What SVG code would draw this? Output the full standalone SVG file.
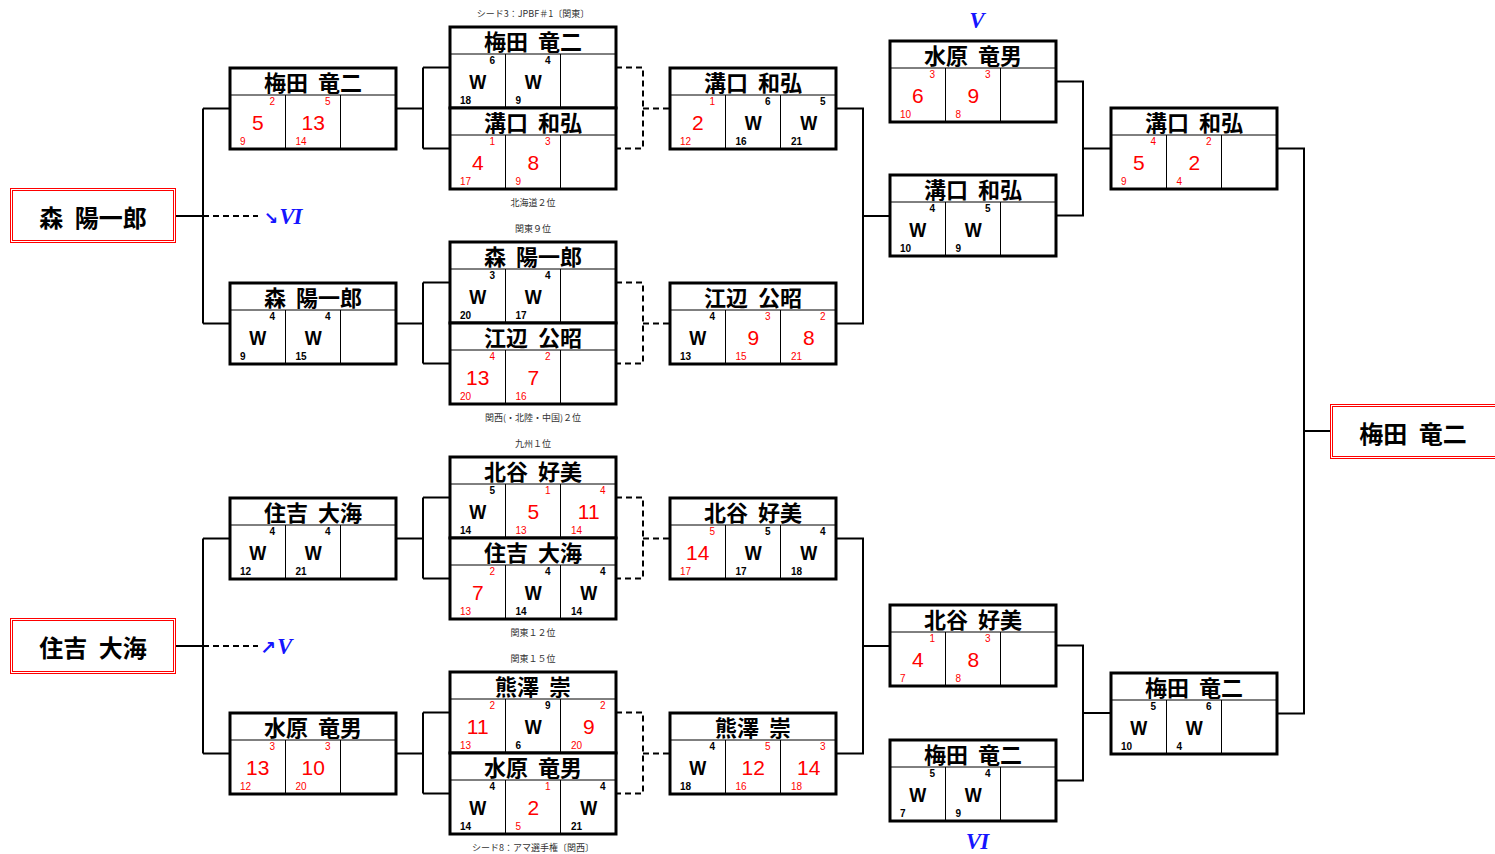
<svg xmlns="http://www.w3.org/2000/svg" width="1495" height="854" viewBox="0 0 1495 854">
<style>
.bx{fill:#fff;stroke:#000;stroke-width:3}
.ln{stroke:#000;stroke-width:1;fill:none}
.nm{font-family:"Noto Sans CJK JP","Noto Sans CJK SC",sans-serif;font-weight:bold;font-size:22px;text-anchor:middle;word-spacing:5px;fill:#000}
.fn{font-family:"Noto Sans CJK JP","Noto Sans CJK SC",sans-serif;font-weight:bold;font-size:24px;text-anchor:middle;word-spacing:6px;fill:#000}
.fb{fill:#fff;stroke:#f00;stroke-width:1}
.b{font-family:"Liberation Sans",Arial,sans-serif;font-size:21px;text-anchor:middle}
.s{font-family:"Liberation Sans",Arial,sans-serif;font-size:10px}
.e{text-anchor:end}
.r{fill:#f00}
.k{fill:#000;font-weight:bold}
.lb{font-family:"Noto Sans CJK JP","Noto Sans CJK SC",sans-serif;font-size:9px;fill:#333;text-anchor:middle}
.bl{font-family:"Liberation Serif","Times New Roman",serif;font-weight:bold;font-style:italic;font-size:23px;fill:#1515ff}
.ar{font-family:"DejaVu Sans",sans-serif;fill:#1515ff;font-weight:bold}
.c{stroke:#000;stroke-width:2;fill:none}
.d{stroke:#000;stroke-width:2;fill:none;stroke-dasharray:6 4}
</style>

<g id="connectors">
<path class="c" d="M176,216H203M203,108.5V323.5M203,108.5H230M203,323.5H230"/>
<path class="d" d="M203,216H258"/>
<path class="c" d="M176,646H203M203,538.5V753.5M203,538.5H230M203,753.5H230"/>
<path class="d" d="M203,646H258"/>
<path class="c" d="M396,108.5H423M423,67.5V148.5M423,67.5H450M423,148.5H450"/>
<path class="c" d="M396,323.5H423M423,282.5V363.5M423,282.5H450M423,363.5H450"/>
<path class="c" d="M396,538.5H423M423,497.5V578.5M423,497.5H450M423,578.5H450"/>
<path class="c" d="M396,753.5H423M423,712.5V793.5M423,712.5H450M423,793.5H450"/>
<path class="d" d="M616,67.5H643V148.5H616M643,108.5H670"/>
<path class="d" d="M616,282.5H643V363.5H616M643,323.5H670"/>
<path class="d" d="M616,497.5H643V578.5H616M643,538.5H670"/>
<path class="d" d="M616,712.5H643V793.5H616M643,753.5H670"/>
<path class="c" d="M836,108.5H863V323.5H836M863,216H890"/>
<path class="c" d="M836,538.5H863V753.5H836M863,646H890"/>
<path class="c" d="M1056,81.5H1083V215.5H1056M1083,148.5H1111"/>
<path class="c" d="M1056,645.5H1083V780.5H1056M1083,713H1111"/>
<path class="c" d="M1277,148.5H1304V713.5H1277M1304,431H1330"/>
</g>

<g id="labels">
<text class="lb" x="533" y="16.5">シード3：JPBF＃1〔関東〕</text>
<text class="lb" x="533" y="206">北海道２位</text>
<text class="lb" x="533" y="232">関東９位</text>
<text class="lb" x="533" y="421">関西(・北陸・中国)２位</text>
<text class="lb" x="533" y="447">九州１位</text>
<text class="lb" x="533" y="636">関東１２位</text>
<text class="lb" x="533" y="662">関東１５位</text>
<text class="lb" x="533" y="851">シード8：アマ選手権〔関西〕</text>
<text class="bl" x="977" y="28" text-anchor="middle">V</text>
<text class="bl" x="977" y="849" text-anchor="middle" letter-spacing="-1">VI</text>
<text x="264" y="224"><tspan class="ar" font-size="17">↘</tspan><tspan class="bl" dx="1" letter-spacing="-1">VI</tspan></text>
<text x="260" y="654"><tspan class="ar" font-size="19">↗</tspan><tspan class="bl" dx="1">V</tspan></text>
</g>

<g id="final-mori" transform="translate(10,188)">
<rect class="fb" x="0.5" y="0.5" width="165" height="54"/>
<rect class="fb" x="2.5" y="2.5" width="161" height="50"/>
<text class="fn" x="83" y="38.5">森 陽一郎</text>
</g>
<g id="final-sumiyoshi" transform="translate(10,618)">
<rect class="fb" x="0.5" y="0.5" width="165" height="55"/>
<rect class="fb" x="2.5" y="2.5" width="161" height="51"/>
<text class="fn" x="83" y="38.5">住吉 大海</text>
</g>
<g id="final-umeda" transform="translate(1330,404)">
<rect class="fb" x="0.5" y="0.5" width="166" height="54"/>
<rect class="fb" x="2.5" y="2.5" width="166" height="50"/>
<text class="fn" x="83" y="38.5">梅田 竜二</text>
</g>

<!-- Quarter 0 -->
<g id="q0-c1" transform="translate(230,68)">
<rect class="bx" width="166" height="81"/><path class="ln" d="M0,27H166M55.5,27V81M110.5,27V81"/>
<text class="nm" x="83" y="23">梅田 竜二</text>
<text class="b r" x="27.75" y="62">5</text><text class="s r e" x="45" y="36.5">2</text><text class="s r" x="10" y="77">9</text>
<text class="b r" x="83.25" y="62">13</text><text class="s r e" x="100.5" y="36.5">5</text><text class="s r" x="65.5" y="77">14</text>
</g>
<g id="q0-c2a" transform="translate(450,27)">
<rect class="bx" width="166" height="81"/><path class="ln" d="M0,27H166M55.5,27V81M110.5,27V81"/>
<text class="nm" x="83" y="23">梅田 竜二</text>
<text class="b k" x="27.75" y="62" textLength="17" lengthAdjust="spacingAndGlyphs">W</text><text class="s k e" x="45" y="36.5">6</text><text class="s k" x="10" y="77">18</text>
<text class="b k" x="83.25" y="62" textLength="17" lengthAdjust="spacingAndGlyphs">W</text><text class="s k e" x="100.5" y="36.5">4</text><text class="s k" x="65.5" y="77">9</text>
</g>
<g id="q0-c2b" transform="translate(450,108)">
<rect class="bx" width="166" height="81"/><path class="ln" d="M0,27H166M55.5,27V81M110.5,27V81"/>
<text class="nm" x="83" y="23">溝口 和弘</text>
<text class="b r" x="27.75" y="62">4</text><text class="s r e" x="45" y="36.5">1</text><text class="s r" x="10" y="77">17</text>
<text class="b r" x="83.25" y="62">8</text><text class="s r e" x="100.5" y="36.5">3</text><text class="s r" x="65.5" y="77">9</text>
</g>
<g id="q0-c3" transform="translate(670,68)">
<rect class="bx" width="166" height="81"/><path class="ln" d="M0,27H166M55.5,27V81M110.5,27V81"/>
<text class="nm" x="83" y="23">溝口 和弘</text>
<text class="b r" x="27.75" y="62">2</text><text class="s r e" x="45" y="36.5">1</text><text class="s r" x="10" y="77">12</text>
<text class="b k" x="83.25" y="62" textLength="17" lengthAdjust="spacingAndGlyphs">W</text><text class="s k e" x="100.5" y="36.5">6</text><text class="s k" x="65.5" y="77">16</text>
<text class="b k" x="138.75" y="62" textLength="17" lengthAdjust="spacingAndGlyphs">W</text><text class="s k e" x="155.5" y="36.5">5</text><text class="s k" x="121" y="77">21</text>
</g>

<!-- Quarter 1 -->
<g id="q1-c1" transform="translate(230,283)">
<rect class="bx" width="166" height="81"/><path class="ln" d="M0,27H166M55.5,27V81M110.5,27V81"/>
<text class="nm" x="83" y="23">森 陽一郎</text>
<text class="b k" x="27.75" y="62" textLength="17" lengthAdjust="spacingAndGlyphs">W</text><text class="s k e" x="45" y="36.5">4</text><text class="s k" x="10" y="77">9</text>
<text class="b k" x="83.25" y="62" textLength="17" lengthAdjust="spacingAndGlyphs">W</text><text class="s k e" x="100.5" y="36.5">4</text><text class="s k" x="65.5" y="77">15</text>
</g>
<g id="q1-c2a" transform="translate(450,242)">
<rect class="bx" width="166" height="81"/><path class="ln" d="M0,27H166M55.5,27V81M110.5,27V81"/>
<text class="nm" x="83" y="23">森 陽一郎</text>
<text class="b k" x="27.75" y="62" textLength="17" lengthAdjust="spacingAndGlyphs">W</text><text class="s k e" x="45" y="36.5">3</text><text class="s k" x="10" y="77">20</text>
<text class="b k" x="83.25" y="62" textLength="17" lengthAdjust="spacingAndGlyphs">W</text><text class="s k e" x="100.5" y="36.5">4</text><text class="s k" x="65.5" y="77">17</text>
</g>
<g id="q1-c2b" transform="translate(450,323)">
<rect class="bx" width="166" height="81"/><path class="ln" d="M0,27H166M55.5,27V81M110.5,27V81"/>
<text class="nm" x="83" y="23">江辺 公昭</text>
<text class="b r" x="27.75" y="62">13</text><text class="s r e" x="45" y="36.5">4</text><text class="s r" x="10" y="77">20</text>
<text class="b r" x="83.25" y="62">7</text><text class="s r e" x="100.5" y="36.5">2</text><text class="s r" x="65.5" y="77">16</text>
</g>
<g id="q1-c3" transform="translate(670,283)">
<rect class="bx" width="166" height="81"/><path class="ln" d="M0,27H166M55.5,27V81M110.5,27V81"/>
<text class="nm" x="83" y="23">江辺 公昭</text>
<text class="b k" x="27.75" y="62" textLength="17" lengthAdjust="spacingAndGlyphs">W</text><text class="s k e" x="45" y="36.5">4</text><text class="s k" x="10" y="77">13</text>
<text class="b r" x="83.25" y="62">9</text><text class="s r e" x="100.5" y="36.5">3</text><text class="s r" x="65.5" y="77">15</text>
<text class="b r" x="138.75" y="62">8</text><text class="s r e" x="155.5" y="36.5">2</text><text class="s r" x="121" y="77">21</text>
</g>

<!-- Quarter 2 -->
<g id="q2-c1" transform="translate(230,498)">
<rect class="bx" width="166" height="81"/><path class="ln" d="M0,27H166M55.5,27V81M110.5,27V81"/>
<text class="nm" x="83" y="23">住吉 大海</text>
<text class="b k" x="27.75" y="62" textLength="17" lengthAdjust="spacingAndGlyphs">W</text><text class="s k e" x="45" y="36.5">4</text><text class="s k" x="10" y="77">12</text>
<text class="b k" x="83.25" y="62" textLength="17" lengthAdjust="spacingAndGlyphs">W</text><text class="s k e" x="100.5" y="36.5">4</text><text class="s k" x="65.5" y="77">21</text>
</g>
<g id="q2-c2a" transform="translate(450,457)">
<rect class="bx" width="166" height="81"/><path class="ln" d="M0,27H166M55.5,27V81M110.5,27V81"/>
<text class="nm" x="83" y="23">北谷 好美</text>
<text class="b k" x="27.75" y="62" textLength="17" lengthAdjust="spacingAndGlyphs">W</text><text class="s k e" x="45" y="36.5">5</text><text class="s k" x="10" y="77">14</text>
<text class="b r" x="83.25" y="62">5</text><text class="s r e" x="100.5" y="36.5">1</text><text class="s r" x="65.5" y="77">13</text>
<text class="b r" x="138.75" y="62">11</text><text class="s r e" x="155.5" y="36.5">4</text><text class="s r" x="121" y="77">14</text>
</g>
<g id="q2-c2b" transform="translate(450,538)">
<rect class="bx" width="166" height="81"/><path class="ln" d="M0,27H166M55.5,27V81M110.5,27V81"/>
<text class="nm" x="83" y="23">住吉 大海</text>
<text class="b r" x="27.75" y="62">7</text><text class="s r e" x="45" y="36.5">2</text><text class="s r" x="10" y="77">13</text>
<text class="b k" x="83.25" y="62" textLength="17" lengthAdjust="spacingAndGlyphs">W</text><text class="s k e" x="100.5" y="36.5">4</text><text class="s k" x="65.5" y="77">14</text>
<text class="b k" x="138.75" y="62" textLength="17" lengthAdjust="spacingAndGlyphs">W</text><text class="s k e" x="155.5" y="36.5">4</text><text class="s k" x="121" y="77">14</text>
</g>
<g id="q2-c3" transform="translate(670,498)">
<rect class="bx" width="166" height="81"/><path class="ln" d="M0,27H166M55.5,27V81M110.5,27V81"/>
<text class="nm" x="83" y="23">北谷 好美</text>
<text class="b r" x="27.75" y="62">14</text><text class="s r e" x="45" y="36.5">5</text><text class="s r" x="10" y="77">17</text>
<text class="b k" x="83.25" y="62" textLength="17" lengthAdjust="spacingAndGlyphs">W</text><text class="s k e" x="100.5" y="36.5">5</text><text class="s k" x="65.5" y="77">17</text>
<text class="b k" x="138.75" y="62" textLength="17" lengthAdjust="spacingAndGlyphs">W</text><text class="s k e" x="155.5" y="36.5">4</text><text class="s k" x="121" y="77">18</text>
</g>

<!-- Quarter 3 -->
<g id="q3-c1" transform="translate(230,713)">
<rect class="bx" width="166" height="81"/><path class="ln" d="M0,27H166M55.5,27V81M110.5,27V81"/>
<text class="nm" x="83" y="23">水原 竜男</text>
<text class="b r" x="27.75" y="62">13</text><text class="s r e" x="45" y="36.5">3</text><text class="s r" x="10" y="77">12</text>
<text class="b r" x="83.25" y="62">10</text><text class="s r e" x="100.5" y="36.5">3</text><text class="s r" x="65.5" y="77">20</text>
</g>
<g id="q3-c2a" transform="translate(450,672)">
<rect class="bx" width="166" height="81"/><path class="ln" d="M0,27H166M55.5,27V81M110.5,27V81"/>
<text class="nm" x="83" y="23">熊澤 崇</text>
<text class="b r" x="27.75" y="62">11</text><text class="s r e" x="45" y="36.5">2</text><text class="s r" x="10" y="77">13</text>
<text class="b k" x="83.25" y="62" textLength="17" lengthAdjust="spacingAndGlyphs">W</text><text class="s k e" x="100.5" y="36.5">9</text><text class="s k" x="65.5" y="77">6</text>
<text class="b r" x="138.75" y="62">9</text><text class="s r e" x="155.5" y="36.5">2</text><text class="s r" x="121" y="77">20</text>
</g>
<g id="q3-c2b" transform="translate(450,753)">
<rect class="bx" width="166" height="81"/><path class="ln" d="M0,27H166M55.5,27V81M110.5,27V81"/>
<text class="nm" x="83" y="23">水原 竜男</text>
<text class="b k" x="27.75" y="62" textLength="17" lengthAdjust="spacingAndGlyphs">W</text><text class="s k e" x="45" y="36.5">4</text><text class="s k" x="10" y="77">14</text>
<text class="b r" x="83.25" y="62">2</text><text class="s r e" x="100.5" y="36.5">1</text><text class="s r" x="65.5" y="77">5</text>
<text class="b k" x="138.75" y="62" textLength="17" lengthAdjust="spacingAndGlyphs">W</text><text class="s k e" x="155.5" y="36.5">4</text><text class="s k" x="121" y="77">21</text>
</g>
<g id="q3-c3" transform="translate(670,713)">
<rect class="bx" width="166" height="81"/><path class="ln" d="M0,27H166M55.5,27V81M110.5,27V81"/>
<text class="nm" x="83" y="23">熊澤 崇</text>
<text class="b k" x="27.75" y="62" textLength="17" lengthAdjust="spacingAndGlyphs">W</text><text class="s k e" x="45" y="36.5">4</text><text class="s k" x="10" y="77">18</text>
<text class="b r" x="83.25" y="62">12</text><text class="s r e" x="100.5" y="36.5">5</text><text class="s r" x="65.5" y="77">16</text>
<text class="b r" x="138.75" y="62">14</text><text class="s r e" x="155.5" y="36.5">3</text><text class="s r" x="121" y="77">18</text>
</g>

<!-- Column 4 -->
<g id="c4-a" transform="translate(890,41)">
<rect class="bx" width="166" height="81"/><path class="ln" d="M0,27H166M55.5,27V81M110.5,27V81"/>
<text class="nm" x="83" y="23">水原 竜男</text>
<text class="b r" x="27.75" y="62">6</text><text class="s r e" x="45" y="36.5">3</text><text class="s r" x="10" y="77">10</text>
<text class="b r" x="83.25" y="62">9</text><text class="s r e" x="100.5" y="36.5">3</text><text class="s r" x="65.5" y="77">8</text>
</g>
<g id="c4-b" transform="translate(890,175)">
<rect class="bx" width="166" height="81"/><path class="ln" d="M0,27H166M55.5,27V81M110.5,27V81"/>
<text class="nm" x="83" y="23">溝口 和弘</text>
<text class="b k" x="27.75" y="62" textLength="17" lengthAdjust="spacingAndGlyphs">W</text><text class="s k e" x="45" y="36.5">4</text><text class="s k" x="10" y="77">10</text>
<text class="b k" x="83.25" y="62" textLength="17" lengthAdjust="spacingAndGlyphs">W</text><text class="s k e" x="100.5" y="36.5">5</text><text class="s k" x="65.5" y="77">9</text>
</g>
<g id="c4-c" transform="translate(890,605)">
<rect class="bx" width="166" height="81"/><path class="ln" d="M0,27H166M55.5,27V81M110.5,27V81"/>
<text class="nm" x="83" y="23">北谷 好美</text>
<text class="b r" x="27.75" y="62">4</text><text class="s r e" x="45" y="36.5">1</text><text class="s r" x="10" y="77">7</text>
<text class="b r" x="83.25" y="62">8</text><text class="s r e" x="100.5" y="36.5">3</text><text class="s r" x="65.5" y="77">8</text>
</g>
<g id="c4-d" transform="translate(890,740)">
<rect class="bx" width="166" height="81"/><path class="ln" d="M0,27H166M55.5,27V81M110.5,27V81"/>
<text class="nm" x="83" y="23">梅田 竜二</text>
<text class="b k" x="27.75" y="62" textLength="17" lengthAdjust="spacingAndGlyphs">W</text><text class="s k e" x="45" y="36.5">5</text><text class="s k" x="10" y="77">7</text>
<text class="b k" x="83.25" y="62" textLength="17" lengthAdjust="spacingAndGlyphs">W</text><text class="s k e" x="100.5" y="36.5">4</text><text class="s k" x="65.5" y="77">9</text>
</g>

<!-- Column 5 -->
<g id="c5-a" transform="translate(1111,108)">
<rect class="bx" width="166" height="81"/><path class="ln" d="M0,27H166M55.5,27V81M110.5,27V81"/>
<text class="nm" x="83" y="23">溝口 和弘</text>
<text class="b r" x="27.75" y="62">5</text><text class="s r e" x="45" y="36.5">4</text><text class="s r" x="10" y="77">9</text>
<text class="b r" x="83.25" y="62">2</text><text class="s r e" x="100.5" y="36.5">2</text><text class="s r" x="65.5" y="77">4</text>
</g>
<g id="c5-b" transform="translate(1111,673)">
<rect class="bx" width="166" height="81"/><path class="ln" d="M0,27H166M55.5,27V81M110.5,27V81"/>
<text class="nm" x="83" y="23">梅田 竜二</text>
<text class="b k" x="27.75" y="62" textLength="17" lengthAdjust="spacingAndGlyphs">W</text><text class="s k e" x="45" y="36.5">5</text><text class="s k" x="10" y="77">10</text>
<text class="b k" x="83.25" y="62" textLength="17" lengthAdjust="spacingAndGlyphs">W</text><text class="s k e" x="100.5" y="36.5">6</text><text class="s k" x="65.5" y="77">4</text>
</g>
</svg>
